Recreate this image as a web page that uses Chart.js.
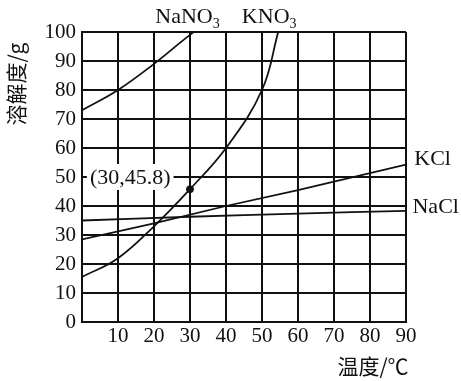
<!DOCTYPE html>
<html>
<head>
<meta charset="utf-8">
<script src="https://cdn.jsdelivr.net/npm/chart.js@4/dist/chart.umd.min.js"></script>
<style>
  html, body { margin: 0; padding: 0; background: #fff; }
  canvas { display: block; }
</style>
</head>
<body>
<canvas id="chart" width="461" height="381"></canvas>
<script>
// solubility curves (temperature in °C, solubility in g)
const nano3T = [0, 10, 20, 30, 40];
const nano3S = [73, 80, 89, 99, 108];

const kno3T = [0, 10, 20, 30, 40, 50, 54.5];
const kno3S = [15.5, 22, 33, 45.8, 60, 80, 100];

const kclT = [0, 20, 40, 60, 90];
const kclS = [28.5, 34, 40, 45.5, 54.3];

const naclT = [0, 30, 60, 90];
const naclS = [35, 36.3, 37.4, 38.3];

const markT = [30];
const markS = [45.8];

const xTicks = [10, 20, 30, 40, 50, 60, 70, 80, 90];
const yTicks = [0, 10, 20, 30, 40, 50, 60, 70, 80, 90, 100];

const INK = '#111';
const SERIF = "'Liberation Serif', 'Times New Roman', serif";
const CJK = "'Noto Sans CJK SC', sans-serif";

function pts(xs, ys){ return xs.map((x, i) => ({ x, y: ys[i] })); }

function curve(data, tension){
  return {
    data,
    borderColor: INK,
    backgroundColor: 'transparent',
    borderWidth: 1.8,
    pointRadius: 0,
    tension
  };
}

// formula with a lowered subscript, centred on x
function chem(ctx, x, y, main, sub){
  ctx.font = `22px ${SERIF}`;
  const w1 = ctx.measureText(main).width;
  ctx.font = `14px ${SERIF}`;
  const w2 = ctx.measureText(sub).width;
  const left = x - (w1 + w2) / 2;
  ctx.textAlign = 'left';
  ctx.textBaseline = 'alphabetic';
  ctx.font = `22px ${SERIF}`;
  ctx.fillText(main, left, y);
  ctx.font = `14px ${SERIF}`;
  ctx.fillText(sub, left + w1, y + 5);
}

const labelPlugin = {
  id: 'labels',
  afterDatasetsDraw(chart){
    const { ctx, scales: { x, y } } = chart;
    ctx.save();

    // (30,45.8) callout with white box
    const cx = x.getPixelForValue(13.4), cy = y.getPixelForValue(50);
    ctx.font = `22px ${SERIF}`;
    const txt = '(30,45.8)';
    const tw = ctx.measureText(txt).width;
    ctx.fillStyle = '#fff';
    ctx.fillRect(cx - tw / 2 - 3, cy - 13, tw + 6, 26);
    ctx.fillStyle = INK;
    ctx.textAlign = 'center';
    ctx.textBaseline = 'middle';
    ctx.fillText(txt, cx, cy + 1);

    // curve names
    const top = y.getPixelForValue(100) - 9;
    chem(ctx, x.getPixelForValue(29.3), top, 'NaNO', '3');
    chem(ctx, x.getPixelForValue(52), top, 'KNO', '3');

    ctx.font = `22px ${SERIF}`;
    ctx.textAlign = 'left';
    ctx.textBaseline = 'middle';
    ctx.fillText('KCl', x.getPixelForValue(92.3), y.getPixelForValue(56));
    ctx.fillText('NaCl', x.getPixelForValue(91.8), y.getPixelForValue(39.5));

    // axis titles
    ctx.font = `21px ${CJK}`;
    ctx.textAlign = 'center';
    ctx.fillText('温度/℃', 373, 366);

    ctx.translate(16, 84);
    ctx.rotate(-Math.PI / 2);
    ctx.fillText('溶解度/g', 0, 0);
    ctx.restore();
  }
};

new Chart(document.getElementById('chart'), {
  type: 'line',
  data: {
    datasets: [
      curve(pts(nano3T, nano3S), 0.4),
      curve(pts(kno3T, kno3S), 0.4),
      curve(pts(kclT, kclS), 0),
      curve(pts(naclT, naclS), 0.4),
      {
        data: pts(markT, markS),
        showLine: false,
        pointRadius: 3.5,
        pointBackgroundColor: INK,
        pointBorderColor: INK
      }
    ]
  },
  options: {
    responsive: false,
    animation: false,
    layout: { padding: { top: 32, right: 55, left: 0, bottom: 0 } },
    plugins: { legend: { display: false }, tooltip: { enabled: false } },
    scales: {
      x: {
        type: 'linear',
        min: 0, max: 90,
        afterBuildTicks: s => { s.ticks = [0, ...xTicks].map(v => ({ value: v })); },
        afterFit: s => { s.height = 59; },
        ticks: {
          color: INK,
          font: { family: SERIF, size: 21 },
          padding: 2,
          maxRotation: 0,
          callback: v => xTicks.includes(v) ? String(v) : ''
        },
        grid: { color: INK, lineWidth: 2, drawTicks: false },
        border: { color: INK, width: 2 }
      },
      y: {
        min: 0, max: 100,
        afterBuildTicks: s => { s.ticks = yTicks.map(v => ({ value: v })); },
        afterFit: s => { s.width = 82; },
        ticks: {
          color: INK,
          font: { family: SERIF, size: 21 },
          padding: 6
        },
        grid: { color: INK, lineWidth: 2, drawTicks: false },
        border: { color: INK, width: 2 }
      }
    }
  },
  plugins: [labelPlugin]
});
</script>
</body>
</html>
